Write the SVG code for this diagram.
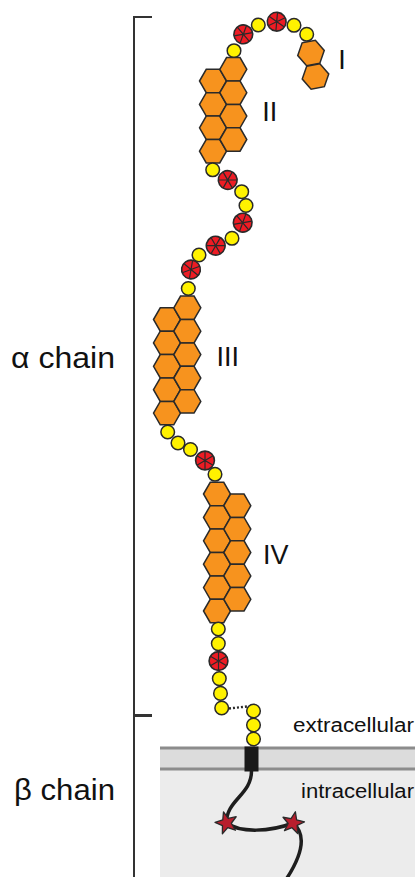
<svg xmlns="http://www.w3.org/2000/svg" width="415" height="877" viewBox="0 0 415 877">
  <style>
    .lbl { font-family: "Liberation Sans", Arial, sans-serif; fill: #111; }
    .big { font-size: 27px; }
    .chain { font-size: 29px; }
    .small { font-size: 20px; }
    .hx { fill: #f7931e; stroke: #2a2a2a; stroke-width: 1.5; }
    .bracket { fill: none; stroke: #333; stroke-width: 2; }
  </style>
  <defs>
    <!-- flat-topped hexagon, r = 13.5 -->
    <polygon id="hx" points="-13.5,0 -6.75,-11.69 6.75,-11.69 13.5,0 6.75,11.69 -6.75,11.69"/>
    <!-- small yellow residue -->
    <circle id="yb" r="6.8" fill="#fff200" stroke="#2a2a2a" stroke-width="1.5"/>
    <!-- larger red residue with spokes -->
    <g id="rb">
      <circle r="9.4" fill="#ed1c24" stroke="#2a2a2a" stroke-width="1.6"/>
      <path d="M0,-9.4V9.4M-8.1,-4.7L8.1,4.7M-8.1,4.7L8.1,-4.7" stroke="#2a2a2a" stroke-width="1.2" fill="none"/>
    </g>
    <!-- five-pointed star -->
    <polygon id="star" points="0,-11.5 2.84,-3.91 10.94,-3.55 4.59,1.49 6.76,9.3 0,4.83 -6.76,9.3 -4.59,1.49 -10.94,-3.55 -2.84,-3.91" fill="#b81e2d" stroke="#2a2a2a" stroke-width="1.3" stroke-linejoin="round"/>
  </defs>

  <!-- membrane -->
  <g id="membrane">
    <rect x="160" y="748" width="255" height="129" fill="#ececec"/>
    <rect x="160" y="748" width="255" height="21" fill="#dcdcdc"/>
    <line x1="160" y1="748" x2="415" y2="748" stroke="#8c8c8c" stroke-width="3"/>
    <line x1="160" y1="769" x2="415" y2="769" stroke="#8c8c8c" stroke-width="3"/>
  </g>

  <!-- brackets -->
  <g id="brackets">
    <path class="bracket" d="M152,17H134V877"/>
    <line x1="133" y1="715.5" x2="152" y2="715.5" stroke="#333" stroke-width="3"/>
  </g>

  <!-- connectors -->
  <g id="connectors">
    <line x1="229" y1="708.5" x2="247" y2="706.5" stroke="#2a2a2a" stroke-width="2.4" stroke-dasharray="2,2"/>
    <path d="M251.5,771 C251.5,795 226,800 226.5,823 C240,833 270,832 293,823 C305,833 305,850 287,878" fill="none" stroke="#1e1e1e" stroke-width="3.5"/>
  </g>

  <!-- domain I -->
  <g id="domain-I">
    <use href="#hx" class="hx" transform="translate(311,53) rotate(-11)"/>
    <use href="#hx" class="hx" transform="translate(315.5,76.5) rotate(-11)"/>
  </g>

  <!-- linker between domains I and II -->
  <g id="linker-I-II">
    <use href="#yb" x="234" y="50.7"/>
    <use href="#rb" transform="translate(243.3,34.3) rotate(20)"/>
    <use href="#yb" x="258.3" y="25"/>
    <use href="#rb" transform="translate(276.7,21.7) rotate(5)"/>
    <use href="#yb" x="294" y="25.3"/>
    <use href="#yb" x="306.7" y="34.3"/>
  </g>

  <!-- domain II -->
  <g id="domain-II">
    <use href="#hx" class="hx" x="213" y="81"/>
    <use href="#hx" class="hx" x="213" y="104.4"/>
    <use href="#hx" class="hx" x="213" y="127.8"/>
    <use href="#hx" class="hx" x="213" y="151.2"/>
    <use href="#hx" class="hx" x="233.3" y="69.3"/>
    <use href="#hx" class="hx" x="233.3" y="92.7"/>
    <use href="#hx" class="hx" x="233.3" y="116.1"/>
    <use href="#hx" class="hx" x="233.3" y="139.5"/>
  </g>

  <!-- linker between domains II and III -->
  <g id="linker-II-III">
    <use href="#yb" x="212.7" y="169.8"/>
    <use href="#rb" transform="translate(227.7,180) rotate(-30)"/>
    <use href="#yb" x="241.7" y="191.7"/>
    <use href="#yb" x="246" y="205.5"/>
    <use href="#rb" transform="translate(242.7,222.7) rotate(20)"/>
    <use href="#yb" x="232" y="238.3"/>
    <use href="#rb" transform="translate(215.7,245.7) rotate(-30)"/>
    <use href="#yb" x="199" y="255"/>
    <use href="#rb" transform="translate(191,269.5) rotate(10)"/>
    <use href="#yb" x="188.3" y="288.5"/>
  </g>

  <!-- domain III -->
  <g id="domain-III">
    <use href="#hx" class="hx" x="167" y="319.5"/>
    <use href="#hx" class="hx" x="167" y="342.9"/>
    <use href="#hx" class="hx" x="167" y="366.3"/>
    <use href="#hx" class="hx" x="167" y="389.7"/>
    <use href="#hx" class="hx" x="167" y="413.1"/>
    <use href="#hx" class="hx" x="187.3" y="307.8"/>
    <use href="#hx" class="hx" x="187.3" y="331.2"/>
    <use href="#hx" class="hx" x="187.3" y="354.6"/>
    <use href="#hx" class="hx" x="187.3" y="378"/>
    <use href="#hx" class="hx" x="187.3" y="401.4"/>
  </g>

  <!-- linker between domains III and IV -->
  <g id="linker-III-IV">
    <use href="#yb" x="167.7" y="432"/>
    <use href="#yb" x="178" y="443"/>
    <use href="#yb" x="190.5" y="449.5"/>
    <use href="#rb" transform="translate(205,460.5)"/>
    <use href="#yb" x="215" y="474.3"/>
  </g>

  <!-- domain IV -->
  <g id="domain-IV">
    <use href="#hx" class="hx" x="217" y="494"/>
    <use href="#hx" class="hx" x="217" y="517.4"/>
    <use href="#hx" class="hx" x="217" y="540.8"/>
    <use href="#hx" class="hx" x="217" y="564.2"/>
    <use href="#hx" class="hx" x="217" y="587.6"/>
    <use href="#hx" class="hx" x="217" y="611"/>
    <use href="#hx" class="hx" x="237.3" y="505.7"/>
    <use href="#hx" class="hx" x="237.3" y="529.1"/>
    <use href="#hx" class="hx" x="237.3" y="552.5"/>
    <use href="#hx" class="hx" x="237.3" y="575.9"/>
    <use href="#hx" class="hx" x="237.3" y="599.3"/>
  </g>

  <!-- C-terminal stretch of the alpha chain -->
  <g id="alpha-tail">
    <use href="#yb" x="218.3" y="629"/>
    <use href="#yb" x="218.3" y="643.6"/>
    <use href="#rb" transform="translate(218.5,661)"/>
    <use href="#yb" x="219.3" y="678.6"/>
    <use href="#yb" x="220.5" y="693.4"/>
    <use href="#yb" x="221.7" y="708"/>
  </g>

  <!-- beta chain -->
  <g id="beta-chain">
    <use href="#yb" x="253.5" y="711"/>
    <use href="#yb" x="253.5" y="725"/>
    <use href="#yb" x="253.5" y="739"/>
    <rect x="244.5" y="746.5" width="14" height="25" fill="#1a1a1a"/>
    <use href="#star" transform="translate(226.5,823) rotate(-15)"/>
    <use href="#star" transform="translate(293,823) rotate(12)"/>
  </g>

  <!-- labels -->
  <g id="labels">
    <text class="lbl big" x="342" y="69" text-anchor="middle">I</text>
    <text class="lbl big" x="269.7" y="120.5" text-anchor="middle">II</text>
    <text class="lbl big" x="227.7" y="365.5" text-anchor="middle">III</text>
    <text class="lbl big" x="275.8" y="564" text-anchor="middle">IV</text>
    <text class="lbl chain" x="11" y="368" textLength="104" lengthAdjust="spacingAndGlyphs">α chain</text>
    <text class="lbl chain" x="14" y="800" textLength="101" lengthAdjust="spacingAndGlyphs">β chain</text>
    <text class="lbl small" x="293" y="732" textLength="121" lengthAdjust="spacingAndGlyphs">extracellular</text>
    <text class="lbl small" x="301" y="798" textLength="113" lengthAdjust="spacingAndGlyphs">intracellular</text>
  </g>
</svg>
